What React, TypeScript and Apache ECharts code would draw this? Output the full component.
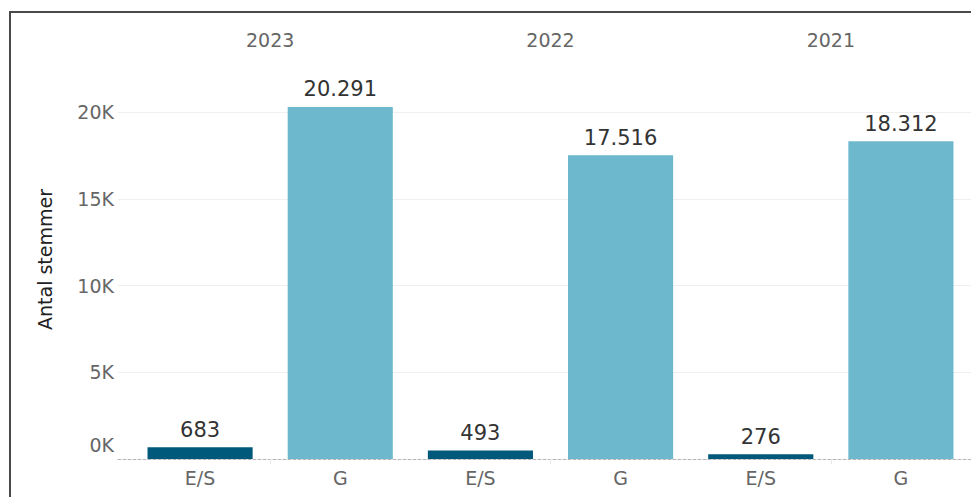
import React, { useEffect, useRef } from "react";
import * as echarts from "echarts";

const years = ["2023", "2022", "2021"];
const groups = ["E/S", "G"];
const esValues = [683, 493, 276];
const gValues = [20291, 17516, 18312];
const yTicks = [0, 5000, 10000, 15000, 20000];
const groupColors = ["#00587a", "#6db8cd"];

const FONT = "DejaVu Sans";

function fmtDa(n: number): string {
  return String(n).replace(/\B(?=(\d{3})+(?!\d))/g, ".");
}

export default function App() {
  const ref = useRef<HTMLDivElement>(null);
  useEffect(() => {
    if (!ref.current) return;
    const chart = echarts.init(ref.current, undefined, { renderer: "svg" });
    const categories: string[] = [];
    const data: any[] = [];
    years.forEach((y, i) => {
      const vals = [esValues[i], gValues[i]];
      groups.forEach((g, j) => {
        categories.push(y + "|" + g);
        data.push({ value: vals[j], itemStyle: { color: groupColors[j] } });
      });
    });
    const yMax = 23000;
    chart.setOption({
      animation: false,
      grid: [
        { left: 118, right: -2, top: 60, bottom: 38 },
        { left: 130, right: -2, top: 60, bottom: 38 },
      ],
      xAxis: [
        {
          gridIndex: 0,
          type: "value",
          min: 0,
          max: 1,
          axisLabel: { show: false },
          axisTick: { show: false },
          splitLine: { show: false },
          axisLine: { show: true, lineStyle: { color: "#b5b5b5", type: [3, 2], width: 1 } },
        },
        {
          gridIndex: 1,
          type: "category",
          data: categories,
          axisLine: { show: false },
          axisTick: {
            show: true,
            length: 5,
            interval: (i: number) => i % 2 === 1,
            lineStyle: { color: "#e6e6e6" },
          },
          axisLabel: {
            margin: 9,
            color: "#666",
            fontFamily: FONT,
            fontSize: 19,
            formatter: (v: string) => v.split("|")[1],
          },
        },
        {
          gridIndex: 1,
          type: "category",
          position: "top",
          data: years,
          axisLine: { show: false },
          axisTick: { show: false },
          axisLabel: { margin: 11, color: "#666", fontFamily: FONT, fontSize: 19 },
        },
      ],
      yAxis: [
        {
          gridIndex: 0,
          type: "value",
          min: yTicks[0],
          max: yMax,
          interval: yTicks[1] - yTicks[0],
          name: "Antal stemmer",
          nameLocation: "middle",
          nameGap: 64,
          nameTextStyle: { color: "#222", fontFamily: FONT, fontSize: 19 },
          axisLine: { show: false },
          axisTick: { show: false },
          axisLabel: {
            margin: 4,
            color: "#666",
            fontFamily: FONT,
            fontSize: 19,
            showMaxLabel: false,
            formatter: (v: number) => (v === 0 ? "{z|0K}" : v / 1000 + "K"),
            rich: { z: { padding: [0, 0, 28, 0], color: "#666", fontFamily: FONT, fontSize: 19 } },
          },
          splitLine: { show: true, showMinLine: false, showMaxLine: false, lineStyle: { color: "#efefef" } },
        },
        { gridIndex: 1, type: "value", min: 0, max: yMax, show: false, splitLine: { show: false } },
      ],
      series: [
        {
          type: "bar",
          xAxisIndex: 1,
          yAxisIndex: 1,
          data,
          barWidth: "75%",
          label: {
            show: true,
            position: "top",
            distance: 7,
            color: "#333",
            fontFamily: FONT,
            fontSize: 21,
            formatter: (p: any) => fmtDa(p.value),
          },
        },
      ],
    });
    return () => chart.dispose();
  }, []);
  return (
    <div style={{ position: "fixed", left: 0, top: 0, width: 971, height: 497, background: "#fff" }}>
      <div ref={ref} style={{ position: "absolute", left: 0, top: 0, width: 971, height: 497 }} />
      <div
        style={{
          position: "absolute",
          left: 9,
          top: 11,
          width: 971,
          height: 497,
          borderTop: "2px solid #4a4a4a",
          borderLeft: "2px solid #4a4a4a",
          pointerEvents: "none",
        }}
      />
    </div>
  );
}
